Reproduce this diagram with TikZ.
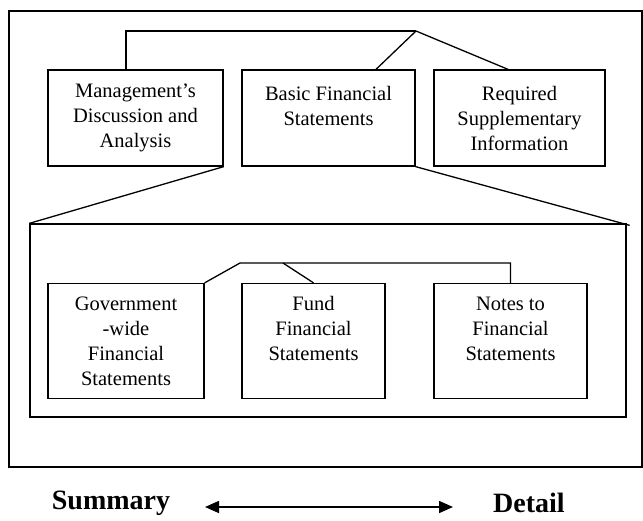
\documentclass[tikz,border=0pt]{standalone}
\usepackage{fontspec}
\setmainfont{Liberation Serif}
\usetikzlibrary{arrows.meta,calc}
\begin{document}
\begin{tikzpicture}[x=1pt,y=-1pt,
  box/.style={draw,line width=1.3pt,align=center,inner sep=0pt,
    font=\fontsize{20.5}{25}\selectfont},
  frame/.style={draw,line width=1.3pt},
  conn/.style={line width=1.3pt},
  endlabel/.style={font=\fontsize{28}{30}\selectfont\bfseries,inner sep=0pt},
  >={Triangle[length=14pt,width=12pt]}]
\useasboundingbox (0,0) rectangle (643,520);
% outer frame
\draw[frame] (9,11) rectangle (642,467);
% top row
\node[box,minimum width=175pt,minimum height=96pt] (mda) at (135.5,118)
  {Management's\\Discussion and\\Analysis};
\node[box,minimum width=173pt,minimum height=96pt] (bfs) at (328.5,118)
  {Basic Financial\\Statements\\\mbox{}};
\node[box,minimum width=171pt,minimum height=96pt] (rsi) at (519.5,118)
  {Required\\Supplementary\\Information};
% top connector
\coordinate (tj) at (416,31);
\draw[conn] ([xshift=-9.5pt]mda.north) |- (tj);
\draw[conn] (tj) -- ([xshift=47.5pt]bfs.north);
\draw[conn] (tj) -- ([xshift=-11.5pt]rsi.north);
% inner frame
\node[frame,minimum width=596pt,minimum height=193pt,inner sep=0pt] (inner) at (328,320.5) {};
\draw[conn] (mda.south east) -- (inner.north west);
\draw[conn] (bfs.south east) -- ([xshift=3pt,yshift=-2pt]inner.north east);
% lower row
\node[box,minimum width=156pt,minimum height=115pt] (gov) at (126,341)
  {Government\\-wide\\Financial\\Statements};
\node[box,minimum width=143pt,minimum height=115pt] (fund) at (313.5,341)
  {Fund\\Financial\\Statements\\\mbox{}};
\node[box,minimum width=153pt,minimum height=115pt] (notes) at (510.5,341)
  {Notes to\\Financial\\Statements\\\mbox{}};
% lower connector
\coordinate (lj1) at (240,263);
\coordinate (lj2) at (283,263);
\draw[conn] (gov.north east) -- (lj1) -| (notes.north);
\draw[conn] (lj2) -- (fund.north);
% summary / detail
\node[endlabel] (sum) at (111,503) {Summary};
\node[endlabel] (det) at (529,503) {Detail};
\coordinate (al) at (205,507);
\coordinate (ar) at (453,507);
\draw[line width=1.6pt,<->] (al) -- (ar);
\end{tikzpicture}
\end{document}
